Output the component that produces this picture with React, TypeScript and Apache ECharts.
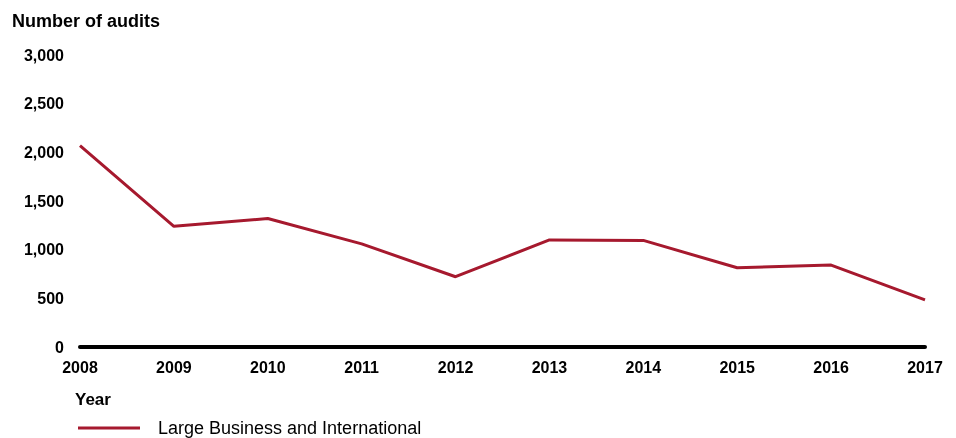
import React, { useEffect, useRef } from "react";
import * as echarts from "echarts";

const years = ["2008", "2009", "2010", "2011", "2012", "2013", "2014", "2015", "2016", "2017"];
const audits = [2070, 1240, 1320, 1060, 722, 1100, 1095, 814, 842, 485];
const seriesName = "Large Business and International";
const yTicks = [0, 500, 1000, 1500, 2000, 2500, 3000];

export default function App() {
  const ref = useRef<HTMLDivElement>(null);
  useEffect(() => {
    if (!ref.current) return;
    const chart = echarts.init(ref.current, null, { renderer: "svg" });
    const font = "'Liberation Sans', Arial, sans-serif";
    chart.setOption({
      animation: false,
      textStyle: { fontFamily: font },
      title: {
        text: "Number of audits",
        left: 7,
        top: 7,
        textStyle: { fontSize: 18, fontWeight: "bold", color: "#000", fontFamily: font },
      },
      grid: { left: 80, right: 31, top: 55, bottom: 91, containLabel: false },
      xAxis: {
        type: "category",
        data: years,
        boundaryGap: false,
        axisLine: { show: true, lineStyle: { color: "#000", width: 4 } },
        axisTick: { show: false },
        axisLabel: { color: "#000", fontSize: 16, fontWeight: "bold", margin: 12, fontFamily: font },
      },
      yAxis: {
        type: "value",
        min: yTicks[0],
        max: yTicks[yTicks.length - 1],
        interval: 500,
        splitLine: { show: false },
        axisLine: { show: false },
        axisTick: { show: false },
        axisLabel: {
          color: "#000",
          fontSize: 16,
          fontWeight: "bold",
          margin: 16,
          fontFamily: font,
          formatter: (v: number) => v.toLocaleString("en-US"),
        },
      },
      legend: {
        data: [seriesName],
        left: 78,
        top: 419,
        padding: 0,
        icon: "rect",
        itemWidth: 62,
        itemHeight: 3,
        itemGap: 10,
        textStyle: {
          fontSize: 18,
          lineHeight: 18,
          color: "#000",
          fontFamily: font,
          padding: [0, 0, 0, 13],
        },
      },
      graphic: [
        {
          type: "text",
          left: 75,
          top: 391,
          style: { text: "Year", fontSize: 17, fontWeight: "bold", fill: "#000", fontFamily: font },
        },
      ],
      series: [
        {
          name: seriesName,
          type: "line",
          data: audits,
          symbol: "none",
          lineStyle: { color: "#A6192E", width: 3 },
          itemStyle: { color: "#A6192E" },
        },
      ],
    });
    return () => chart.dispose();
  }, []);
  return (
    <div
      ref={ref}
      style={{ position: "fixed", left: 0, top: 0, width: 956, height: 438 }}
    />
  );
}
